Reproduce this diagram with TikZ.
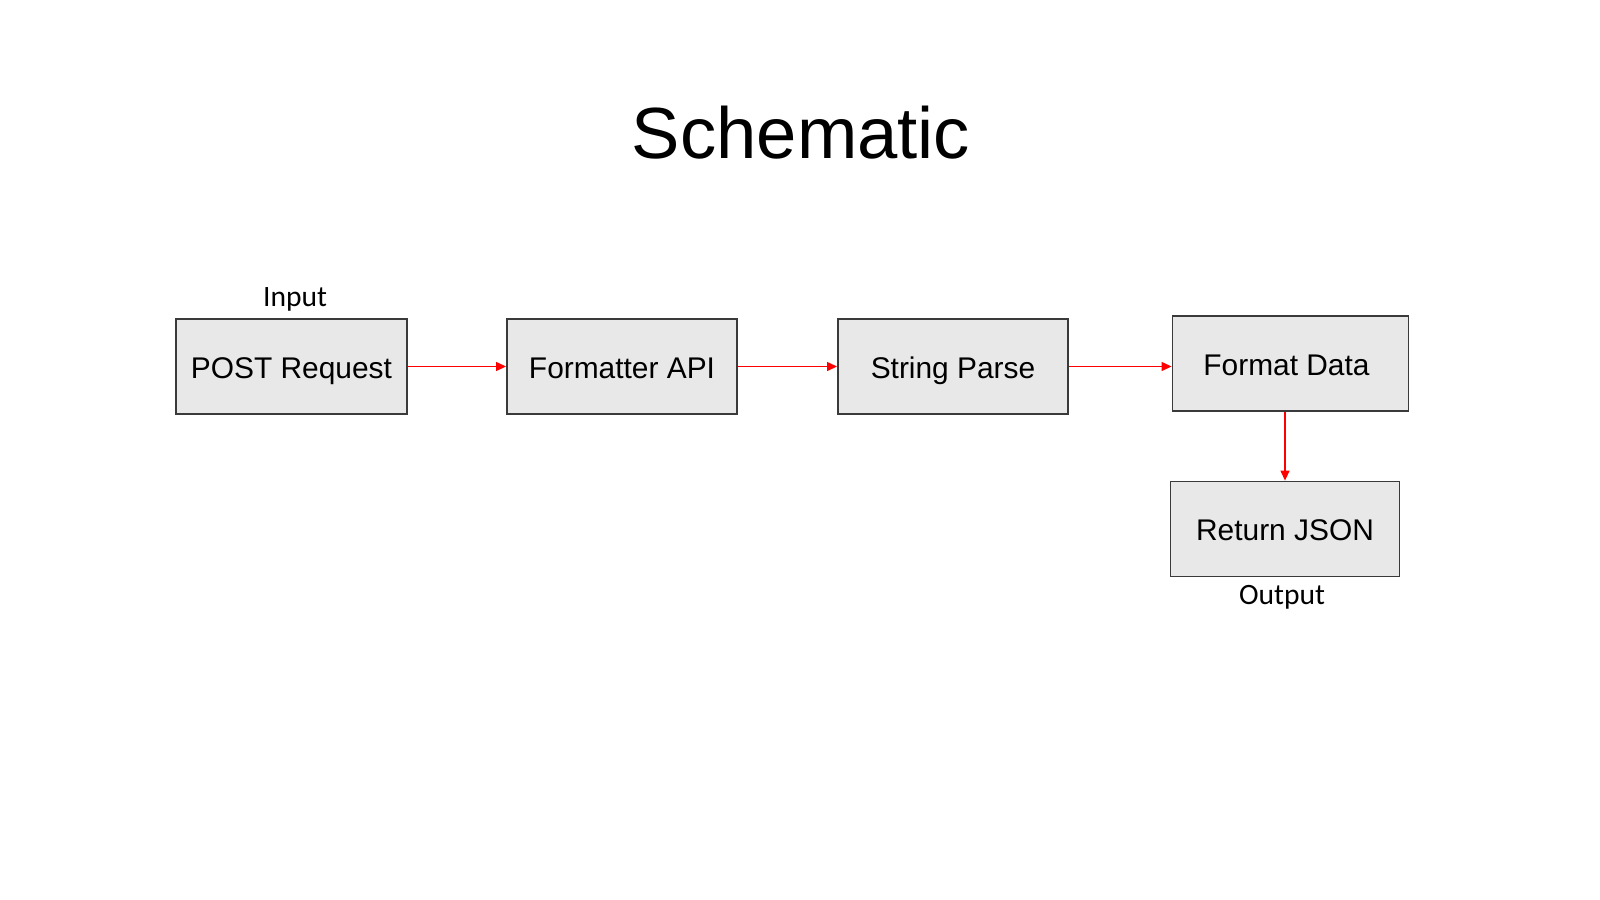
\documentclass[tikz,border=0pt]{standalone}
\usepackage{fontspec}
\setmainfont{Liberation Sans}
\newfontfamily\lblfont{Carlito}
\usetikzlibrary{arrows.meta}
\definecolor{boxfill}{HTML}{E8E8E8}
\definecolor{boxline}{HTML}{3A3A3A}
\begin{document}
\begin{tikzpicture}[x=0.01cm,y=-0.01cm,
  blk/.style={draw=boxline,fill=boxfill,line width=0.5pt,minimum height=0.95cm,inner sep=0pt,text height=0.716em,text depth=0.04em,font=\fontsize{8.5}{10}\selectfont},
  conn/.style={red,line width=0.35pt,-{Triangle[length=0.1cm,width=0.09cm]}},
  lbl/.style={font=\lblfont\fontsize{8.4}{10}\selectfont,inner sep=0pt}]
\useasboundingbox (0,0) rectangle (1600,900);
\node[font=\fontsize{20.6}{24}\selectfont,inner sep=0pt] (title) at (801,133) {Schematic};
\node[blk,minimum width=2.31cm] (post) at (291.5,366.5) {POST Request};
\node[blk,minimum width=2.30cm] (fmtapi) at (622,366.5) {Formatter API};
\node[blk,minimum width=2.30cm] (parse) at (953,366.5) {String Parse};
\node[blk,minimum width=2.36cm] (fdata) at (1290.5,363.5) {Format Data\kern0.08cm};
\node[blk,minimum width=2.29cm] (ret) at (1285,529) {Return JSON};
\node[lbl] (input) at (295,299) {Input};
\node[lbl] (output) at (1282,597) {Output};
\draw[conn] (post.east) -- (fmtapi.west);
\draw[conn] (fmtapi.east) -- (parse.west);
\draw[conn] (parse.east) -- (parse.east -| fdata.west);
\draw[conn] (ret.north |- fdata.south) -- (ret.north);
\end{tikzpicture}
\end{document}
